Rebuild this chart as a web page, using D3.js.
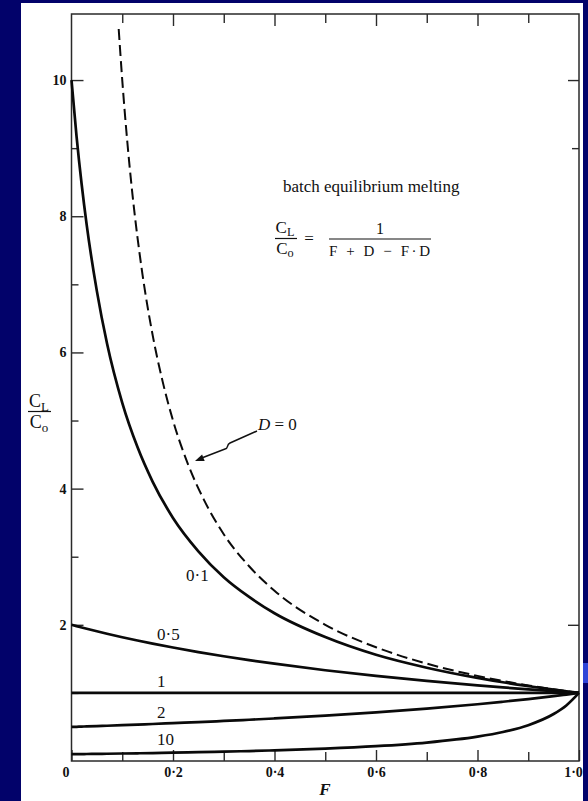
<!DOCTYPE html>
<html>
<head>
<meta charset="utf-8">
<script src="https://cdn.jsdelivr.net/npm/d3@7/dist/d3.min.js"></script>
<style>
  html, body { margin: 0; padding: 0; background: #02026a; }
  svg { display: block; }
  text { font-family: "Liberation Serif", "Times New Roman", serif; fill: #111; }
</style>
</head>
<body>
<svg id="chart" width="588" height="801"></svg>
<script>
// Melt fraction F sampled along each curve
const meltFraction = [0, 0.01, 0.02, 0.03, 0.05, 0.07, 0.1, 0.13, 0.16, 0.2, 0.25, 0.3, 0.35, 0.4,
                      0.5, 0.6, 0.7, 0.8, 0.85, 0.9, 0.95, 0.975, 1.0];

// Enrichment C_L/C_o for each bulk partition coefficient D
const ratioD01 = [10.0, 9.17, 8.47, 7.87, 6.90, 6.13, 5.26, 4.61, 4.10, 3.57, 3.08, 2.70, 2.41, 2.17,
                  1.82, 1.56, 1.37, 1.22, 1.156, 1.10, 1.047, 1.023, 1.0];
const ratioD05 = [2.00, 1.980, 1.961, 1.942, 1.905, 1.869, 1.818, 1.770, 1.724, 1.667, 1.600, 1.538, 1.481, 1.429,
                  1.333, 1.250, 1.176, 1.111, 1.081, 1.053, 1.026, 1.013, 1.0];
const ratioD1  = [1, 1, 1, 1, 1, 1, 1, 1, 1, 1, 1, 1, 1, 1,
                  1, 1, 1, 1, 1, 1, 1, 1, 1];
const ratioD2  = [0.500, 0.5025, 0.505, 0.508, 0.513, 0.518, 0.526, 0.535, 0.543, 0.556, 0.571, 0.588, 0.606, 0.625,
                  0.667, 0.714, 0.769, 0.833, 0.870, 0.909, 0.952, 0.976, 1.0];
const ratioD10 = [0.100, 0.1009, 0.1018, 0.1028, 0.1047, 0.1067, 0.1099, 0.1133, 0.1168, 0.1220, 0.1290, 0.1370, 0.1460, 0.1563,
                  0.1818, 0.2174, 0.2703, 0.3571, 0.4255, 0.5263, 0.690, 0.816, 1.0];

// Perfectly incompatible element (D = 0), starting where it leaves the frame
const meltFractionD0 = [0.093, 0.1, 0.11, 0.12, 0.13, 0.14, 0.16, 0.18, 0.2, 0.23, 0.26, 0.3, 0.35, 0.4,
                        0.5, 0.6, 0.7, 0.8, 0.9, 1.0];
const ratioD0 = [10.75, 10.0, 9.09, 8.33, 7.69, 7.14, 6.25, 5.56, 5.00, 4.35, 3.85, 3.33, 2.86, 2.50,
                 2.00, 1.67, 1.43, 1.25, 1.11, 1.00];

const curveLabels = ["0·1", "0·5", "1", "2", "10"];

// Axis ticks
const xMajorTicks = [0, 0.2, 0.4, 0.6, 0.8, 1.0];
const xMinorTicks = [0.1, 0.3, 0.5, 0.7, 0.9];
const yMajorTicks = [2, 4, 6, 8, 10];
const yMinorTicks = [1, 3, 5, 7, 9];
const yRightMajor = [2, 10];
const yRightMinor = [9];

const svg = d3.select("#chart");

// page background and white sheet
svg.append("rect").attr("width", 588).attr("height", 801).attr("fill", "#02026a");
svg.append("rect").attr("x", 583).attr("y", 663).attr("width", 5).attr("height", 20).attr("fill", "#2f45d8");
svg.append("rect").attr("x", 21).attr("y", 3).attr("width", 562).attr("height", 798).attr("fill", "#ffffff");

const x = d3.scaleLinear().domain([0, 1]).range([71.5, 579]);
const y = d3.scaleLinear().domain([0, 10.97]).range([761, 14]);

const fmt = d => d === 0 ? "0" : d3.format(".1f")(d).replace(".", "·");

const axisColor = "#2a2a2a";
function styleAxis(g) {
  g.attr("font-size", null).attr("font-family", null);
  g.select(".domain").remove();
  g.selectAll(".tick line").attr("stroke", axisColor).attr("stroke-width", 1.4);
  g.selectAll(".tick text")
    .style("font-family", "'Liberation Serif', serif")
    .style("font-weight", "bold").style("font-size", "14px").attr("fill", "#111");
}

// bottom axis (ticks point into the plot)
svg.append("g").attr("transform", `translate(0,${y(0)})`)
  .call(d3.axisBottom(x).tickValues(xMajorTicks).tickSize(-11).tickPadding(8).tickFormat(fmt))
  .call(styleAxis)
  .call(g => g.selectAll(".tick text").attr("y", 16).attr("dy", 0)
    .filter(d => d === 0).attr("dx", -6))
  .call(g => g.selectAll(".tick text").filter(d => d === 1).attr("dx", -6));
svg.append("g").attr("transform", `translate(0,${y(0)})`)
  .call(d3.axisBottom(x).tickValues(xMinorTicks).tickSize(-9).tickFormat(""))
  .call(styleAxis);

// top axis
svg.append("g").attr("transform", `translate(0,${y.range()[1]})`)
  .call(d3.axisTop(x).tickValues([0.2, 0.4, 0.6, 0.8]).tickSize(-12).tickFormat(""))
  .call(styleAxis);
svg.append("g").attr("transform", `translate(0,${y.range()[1]})`)
  .call(d3.axisTop(x).tickValues(xMinorTicks).tickSize(-9).tickFormat(""))
  .call(styleAxis);

// left axis
svg.append("g").attr("transform", `translate(${x(0)},0)`)
  .call(d3.axisLeft(y).tickValues(yMajorTicks).tickSize(-12).tickPadding(5).tickFormat(d3.format("d")))
  .call(styleAxis);
svg.append("g").attr("transform", `translate(${x(0)},0)`)
  .call(d3.axisLeft(y).tickValues(yMinorTicks).tickSize(-7).tickFormat(""))
  .call(styleAxis);

// right axis
svg.append("g").attr("transform", `translate(${x(1)},0)`)
  .call(d3.axisRight(y).tickValues(yRightMajor).tickSize(-11).tickFormat(""))
  .call(styleAxis);
svg.append("g").attr("transform", `translate(${x(1)},0)`)
  .call(d3.axisRight(y).tickValues(yRightMinor).tickSize(-7).tickFormat(""))
  .call(styleAxis);

// frame
svg.append("rect")
  .attr("x", x(0)).attr("y", y.range()[1])
  .attr("width", x(1) - x(0)).attr("height", y(0) - y.range()[1])
  .attr("fill", "none").attr("stroke", axisColor).attr("stroke-width", 1.5);

// curves
const line = d3.line().x(d => x(d[0])).y(d => y(d[1])).curve(d3.curveMonotoneX);
const series = [ratioD01, ratioD05, ratioD1, ratioD2, ratioD10];
series.forEach(vals => {
  svg.append("path")
    .datum(meltFraction.map((f, i) => [f, vals[i]]))
    .attr("d", line)
    .attr("fill", "none").attr("stroke", "#0a0a0a").attr("stroke-width", 2.7)
    .attr("stroke-linejoin", "round");
});
svg.append("path")
  .datum(meltFractionD0.map((f, i) => [f, ratioD0[i]]))
  .attr("d", line)
  .attr("fill", "none").attr("stroke", "#0a0a0a").attr("stroke-width", 2)
  .attr("stroke-dasharray", "11,5");

// curve labels
const labelPos = [[186, 581], [157, 640], [157, 687], [157, 718], [157, 745]];
svg.selectAll("text.curve-label").data(curveLabels).join("text")
  .attr("class", "curve-label")
  .attr("x", (d, i) => labelPos[i][0]).attr("y", (d, i) => labelPos[i][1])
  .attr("font-size", 17).text(d => d);

// D = 0 annotation with zigzag leader
const ann = svg.append("text").attr("x", 258).attr("y", 430).attr("font-size", 17);
ann.append("tspan").attr("font-style", "italic").text("D");
ann.append("tspan").text(" = 0");
svg.append("path")
  .attr("d", "M257,431 L230,443 C226,445 229,448 225,449 L203,457.5")
  .attr("fill", "none").attr("stroke", "#111").attr("stroke-width", 1.5);
svg.append("polygon")
  .attr("points", "195,461 204.7,460.9 202.1,454.5")
  .attr("fill", "#111");

// title and equation
svg.append("text").attr("x", 283).attr("y", 192).attr("font-size", 17)
  .text("batch equilibrium melting");

function fracC(xc, yTop, sub, size) {
  const t = svg.append("text").attr("x", xc).attr("y", yTop).attr("font-size", size)
    .attr("text-anchor", "middle");
  t.append("tspan").text("C");
  t.append("tspan").attr("font-size", size * 0.72).attr("dy", size * 0.2).text(sub);
}
// left side of the equation
fracC(285, 233, "L", 17);
svg.append("line").attr("x1", 275).attr("x2", 297).attr("y1", 238.5).attr("y2", 238.5)
  .attr("stroke", "#111").attr("stroke-width", 1.2);
fracC(285, 254, "o", 17);
svg.append("text").attr("x", 309).attr("y", 244).attr("font-size", 17)
  .attr("text-anchor", "middle").text("=");
svg.append("text").attr("x", 380).attr("y", 234).attr("font-size", 16)
  .attr("text-anchor", "middle").text("1");
svg.append("line").attr("x1", 329).attr("x2", 431).attr("y1", 239).attr("y2", 239)
  .attr("stroke", "#111").attr("stroke-width", 1.2);
svg.append("text").attr("x", 329).attr("y", 256).attr("font-size", 15)
  .attr("textLength", 101).attr("lengthAdjust", "spacing")
  .text("F + D − F·D");

// y-axis title
fracC(39, 407, "L", 18);
svg.append("line").attr("x1", 28).attr("x2", 51).attr("y1", 411.5).attr("y2", 411.5)
  .attr("stroke", "#111").attr("stroke-width", 1.2);
fracC(39, 428, "o", 18);

// x-axis title
svg.append("text").attr("x", 325).attr("y", 795).attr("text-anchor", "middle")
  .attr("font-family", "Liberation Sans, Arial, sans-serif")
  .attr("font-weight", "bold").attr("font-style", "italic").attr("font-size", 17)
  .text("F");
</script>
</body>
</html>
